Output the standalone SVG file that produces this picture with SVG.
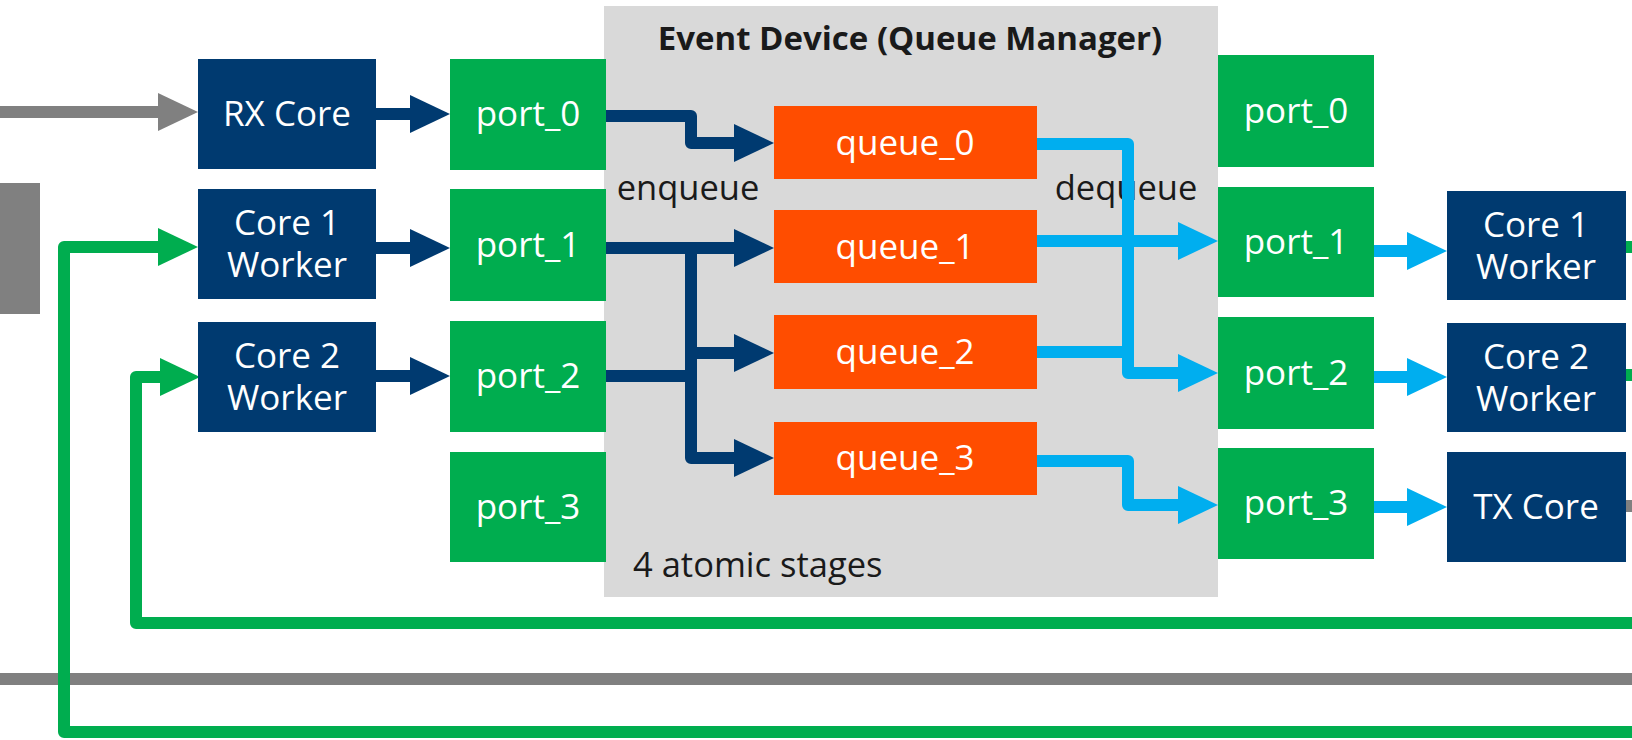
<svg xmlns="http://www.w3.org/2000/svg" width="1632" height="740" viewBox="0 0 1632 740">
  <style>
    .core { fill: #003A70; }
    .port { fill: #00AD4F; }
    .queue { fill: #FF4D00; }
    .dev { fill: #D9D9D9; }
    .lbl { font-family: "Open Sans", "Noto Sans", "Liberation Sans", sans-serif; font-size: 35px; fill: #FFFFFF; text-anchor: middle; }
    .note { font-family: "Open Sans", "Noto Sans", "Liberation Sans", sans-serif; font-size: 34.5px; fill: #1A1A1A; }
    .title { font-family: "Open Sans", "Noto Sans", "Liberation Sans", sans-serif; font-size: 33px; font-weight: bold; fill: #1A1A1A; text-anchor: middle; }
    .ln { fill: none; stroke-width: 12; stroke-linejoin: round; }
    .enq { stroke: #003A70; }
    .deq { stroke: #00AEEF; }
    .grn { stroke: #00AD4F; }
    .gry { stroke: #808080; }
  </style>
  <defs>
    <marker id="ah-blue" markerUnits="userSpaceOnUse" markerWidth="40" markerHeight="38" refX="2" refY="19" orient="auto">
      <path d="M0,0 L40,19 L0,38 z" fill="#003A70"/>
    </marker>
    <marker id="ah-cyan" markerUnits="userSpaceOnUse" markerWidth="40" markerHeight="38" refX="2" refY="19" orient="auto">
      <path d="M0,0 L40,19 L0,38 z" fill="#00AEEF"/>
    </marker>
    <marker id="ah-green" markerUnits="userSpaceOnUse" markerWidth="40" markerHeight="38" refX="2" refY="19" orient="auto">
      <path d="M0,0 L40,19 L0,38 z" fill="#00AD4F"/>
    </marker>
    <marker id="ah-gray" markerUnits="userSpaceOnUse" markerWidth="40" markerHeight="38" refX="2" refY="19" orient="auto">
      <path d="M0,0 L40,19 L0,38 z" fill="#808080"/>
    </marker>
  </defs>

  <rect width="1632" height="740" fill="#FFFFFF"/>

  <!-- event device container -->
  <g id="event-device">
    <rect class="dev" x="604" y="6" width="614" height="591"/>
    <text class="title" x="910" y="50">Event Device (Queue Manager)</text>
    <text class="note" x="688" y="200" text-anchor="middle">enqueue</text>
    <text class="note" x="1126" y="200" text-anchor="middle">dequeue</text>
    <text class="note" x="633" y="577">4 atomic stages</text>
  </g>

  <!-- off-screen source block -->
  <g id="nic-rx">
    <rect x="0" y="183" width="40" height="131" fill="#808080"/>
  </g>

  <!-- connectors -->
  <g id="connectors">
    <!-- long return / bypass lines -->
    <path class="ln gry" d="M0,679 H1640"/>
    <path class="ln grn" d="M1640,623 H136 V377 H162" marker-end="url(#ah-green)"/>
    <path class="ln grn" d="M1640,732 H64 V247 H160" marker-end="url(#ah-green)"/>
    <path class="ln grn" d="M1626,247 H1640"/>
    <path class="ln grn" d="M1626,375 H1640"/>
    <path class="ln gry" d="M1625,506 H1640"/>

    <!-- ingress -->
    <path class="ln gry" d="M0,112 H160" marker-end="url(#ah-gray)"/>

    <!-- cores to enqueue ports -->
    <path class="ln enq" d="M376,114 H412" marker-end="url(#ah-blue)"/>
    <path class="ln enq" d="M376,248 H412" marker-end="url(#ah-blue)"/>
    <path class="ln enq" d="M376,376 H412" marker-end="url(#ah-blue)"/>

    <!-- enqueue paths -->
    <path class="ln enq" d="M604,116 H691 V143 H736" marker-end="url(#ah-blue)"/>
    <path class="ln enq" d="M604,248 H736" marker-end="url(#ah-blue)"/>
    <path class="ln enq" d="M691,248 V458 H736" marker-end="url(#ah-blue)"/>
    <path class="ln enq" d="M604,376 H691"/>
    <path class="ln enq" d="M691,353 H736" marker-end="url(#ah-blue)"/>

    <!-- dequeue paths -->
    <path class="ln deq" d="M1037,144 H1128 V373 H1180" marker-end="url(#ah-cyan)"/>
    <path class="ln deq" d="M1037,241 H1180" marker-end="url(#ah-cyan)"/>
    <path class="ln deq" d="M1037,352 H1128"/>
    <path class="ln deq" d="M1037,461 H1128 V505 H1180" marker-end="url(#ah-cyan)"/>

    <!-- dequeue ports to cores -->
    <path class="ln deq" d="M1374,251 H1409" marker-end="url(#ah-cyan)"/>
    <path class="ln deq" d="M1374,377 H1409" marker-end="url(#ah-cyan)"/>
    <path class="ln deq" d="M1374,507 H1409" marker-end="url(#ah-cyan)"/>
  </g>

  <!-- producer cores -->
  <g id="rx-core">
    <rect class="core" x="198" y="59" width="178" height="110"/>
    <text class="lbl" x="287" y="126">RX Core</text>
  </g>
  <g id="core1-worker-in">
    <rect class="core" x="198" y="189" width="178" height="110"/>
    <text class="lbl"><tspan x="287" y="235">Core 1</tspan><tspan x="287" y="277">Worker</tspan></text>
  </g>
  <g id="core2-worker-in">
    <rect class="core" x="198" y="322" width="178" height="110"/>
    <text class="lbl"><tspan x="287" y="368">Core 2</tspan><tspan x="287" y="410">Worker</tspan></text>
  </g>

  <!-- enqueue ports -->
  <g id="in-port0">
    <rect class="port" x="450" y="59" width="156" height="111"/>
    <text class="lbl" x="528" y="126">port_0</text>
  </g>
  <g id="in-port1">
    <rect class="port" x="450" y="189" width="156" height="112"/>
    <text class="lbl" x="528" y="257">port_1</text>
  </g>
  <g id="in-port2">
    <rect class="port" x="450" y="321" width="156" height="111"/>
    <text class="lbl" x="528" y="388">port_2</text>
  </g>
  <g id="in-port3">
    <rect class="port" x="450" y="452" width="156" height="110"/>
    <text class="lbl" x="528" y="519">port_3</text>
  </g>

  <!-- queues -->
  <g id="queue0">
    <rect class="queue" x="774" y="106" width="263" height="73"/>
    <text class="lbl" x="905" y="155">queue_0</text>
  </g>
  <g id="queue1">
    <rect class="queue" x="774" y="210" width="263" height="73"/>
    <text class="lbl" x="905" y="259">queue_1</text>
  </g>
  <g id="queue2">
    <rect class="queue" x="774" y="315" width="263" height="74"/>
    <text class="lbl" x="905" y="364">queue_2</text>
  </g>
  <g id="queue3">
    <rect class="queue" x="774" y="422" width="263" height="73"/>
    <text class="lbl" x="905" y="470">queue_3</text>
  </g>

  <!-- dequeue ports -->
  <g id="out-port0">
    <rect class="port" x="1218" y="55" width="156" height="112"/>
    <text class="lbl" x="1296" y="123">port_0</text>
  </g>
  <g id="out-port1">
    <rect class="port" x="1218" y="187" width="156" height="110"/>
    <text class="lbl" x="1296" y="254">port_1</text>
  </g>
  <g id="out-port2">
    <rect class="port" x="1218" y="317" width="156" height="112"/>
    <text class="lbl" x="1296" y="385">port_2</text>
  </g>
  <g id="out-port3">
    <rect class="port" x="1218" y="448" width="156" height="111"/>
    <text class="lbl" x="1296" y="515">port_3</text>
  </g>

  <!-- consumer cores -->
  <g id="core1-worker-out">
    <rect class="core" x="1447" y="191" width="179" height="109"/>
    <text class="lbl"><tspan x="1536" y="237">Core 1</tspan><tspan x="1536" y="279">Worker</tspan></text>
  </g>
  <g id="core2-worker-out">
    <rect class="core" x="1447" y="323" width="179" height="109"/>
    <text class="lbl"><tspan x="1536" y="369">Core 2</tspan><tspan x="1536" y="411">Worker</tspan></text>
  </g>
  <g id="tx-core">
    <rect class="core" x="1447" y="452" width="179" height="110"/>
    <text class="lbl" x="1536" y="519">TX Core</text>
  </g>
</svg>
